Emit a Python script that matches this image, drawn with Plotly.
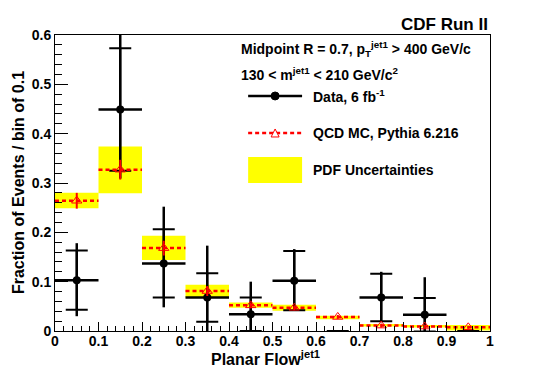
import plotly.graph_objects as go

# bin centres of planar flow (bin width 0.1)
bins = [0.05, 0.15, 0.25, 0.35, 0.45, 0.55, 0.65, 0.75, 0.85, 0.95]
bin_half = 0.05

# data, 6 fb-1
data_y = [0.103, 0.449, 0.137, 0.068, 0.034, 0.102, 0.0, 0.068, 0.033, 0.0]
data_stat = [0.060, 0.124, 0.069, 0.049, 0.034, 0.060, 0.0, 0.048, 0.034, 0.0]
data_tot_up = [0.075, 0.160, 0.115, 0.105, 0.066, 0.064, 0.0, 0.052, 0.076, 0.0]
data_tot_dn = [0.073, 0.140, 0.089, 0.068, 0.034, 0.060, 0.0, 0.050, 0.033, 0.0]

# QCD MC, Pythia 6.216
mc_y = [0.264, 0.327, 0.168, 0.081, 0.052, 0.047, 0.0285, 0.011, 0.009, 0.0075]
mc_err = [0.016, 0.020, 0.015, 0.010, 0.006, 0.005, 0.004, 0.004, 0.004, 0.003]

# PDF uncertainty band
pdf_lo = [0.249, 0.279, 0.144, 0.068, 0.047, 0.041, 0.024, 0.009, 0.007, 0.001]
pdf_hi = [0.280, 0.374, 0.193, 0.094, 0.058, 0.053, 0.031, 0.014, 0.012, 0.012]

FONT = "Liberation Sans"

fig = go.Figure()

# yellow PDF band
fig.add_trace(go.Bar(x=bins, y=[h - l for h, l in zip(pdf_hi, pdf_lo)], base=pdf_lo,
                     width=2 * bin_half, marker=dict(color="#ffff00", line=dict(width=0)),
                     showlegend=False, hoverinfo="skip"))

# data: total errors + bin width
mask = [v if v > 0 else None for v in data_y]
fig.add_trace(go.Scatter(x=bins, y=mask, mode="markers",
                         marker=dict(color="black", size=8, symbol="circle"),
                         error_x=dict(type="constant", value=bin_half, width=0, thickness=2.5, color="black"),
                         error_y=dict(type="data", array=data_tot_up, arrayminus=data_tot_dn,
                                      width=0, thickness=2.5, color="black"),
                         showlegend=False))
# data: statistical errors (cross bars)
fig.add_trace(go.Scatter(x=bins, y=data_y, mode="markers",
                         marker=dict(color="rgba(0,0,0,0)", size=1),
                         error_y=dict(type="data", array=data_stat, width=11, thickness=2, color="black"),
                         showlegend=False))

# MC histogram steps (dotted red per bin)
sx, sy = [], []
for c, v in zip(bins, mc_y):
    sx += [c - bin_half, c + bin_half, None]
    sy += [v, v, None]
fig.add_trace(go.Scatter(x=sx, y=sy, mode="lines",
                         line=dict(color="red", width=2.5, dash="4px,3px"),
                         showlegend=False, hoverinfo="skip"))
fig.add_trace(go.Scatter(x=bins, y=mc_y, mode="markers",
                         marker=dict(color="red", size=9, symbol="triangle-up-open", line=dict(width=1)),
                         error_y=dict(type="data", array=mc_err, width=0, thickness=2, color="red"),
                         showlegend=False))

axis_common = dict(showline=True, linecolor="black", linewidth=1, mirror=True, automargin=False,
                   ticks="inside", tickcolor="black", showgrid=False, zeroline=False,
                   tickfont=dict(family=FONT, size=14, color="black", weight="bold"))

fig.update_xaxes(range=[0, 1], dtick=0.1, tick0=0, ticklen=9, ticklabelstandoff=-3,
                 minor=dict(dtick=0.02, ticklen=5, ticks="inside", tickcolor="black"),
                 **axis_common)
fig.update_yaxes(range=[0, 0.6], dtick=0.1, tick0=0, ticklen=13,
                 minor=dict(dtick=0.02, ticklen=7, ticks="inside", tickcolor="black"),
                 **axis_common)

# titles and legend drawn by hand in paper coordinates
tf = dict(family=FONT, size=14, color="black", weight="bold")
ann = [
    dict(text="Planar Flow<sup>jet1</sup>", x=0.485, y=-0.05, xanchor="center", yanchor="top",
         font=dict(family=FONT, size=16, color="black", weight="bold")),
    dict(text="Fraction of Events / bin of 0.1", x=-0.085, y=0.5, xanchor="center", yanchor="middle",
         textangle=-90, font=dict(family=FONT, size=16, color="black", weight="bold")),
    dict(text="CDF Run II", x=1, y=1, xanchor="right", yanchor="bottom", yshift=-1,
         font=dict(family=FONT, size=17, color="black", weight="bold")),
    dict(text="Midpoint R = 0.7, p<sub>T</sub><sup>jet1</sup> > 400 GeV/c", x=0.424, y=0.953,
         xanchor="left", yanchor="middle", font=tf),
    dict(text="130 < m<sup>jet1</sup> < 210 GeV/c<sup>2</sup>", x=0.424, y=0.868,
         xanchor="left", yanchor="middle", font=tf),
    dict(text="Data, 6 fb<sup>-1</sup>", x=0.588, y=0.794, xanchor="left", yanchor="middle", font=tf),
    dict(text="QCD MC, Pythia 6.216", x=0.588, y=0.669, xanchor="left", yanchor="middle", font=tf),
    dict(text="PDF Uncertainties", x=0.588, y=0.544, xanchor="left", yanchor="middle", font=tf),
]
for a in ann:
    a.update(xref="paper", yref="paper", showarrow=False)

lx0, lx1, lxc = 0.444, 0.568, 0.506
shapes = [
    dict(type="line", x0=lx0, x1=lx1, y0=0.794, y1=0.794, line=dict(color="black", width=2.5)),
    dict(type="circle", xsizemode="pixel", ysizemode="pixel", xanchor=lxc, yanchor=0.794,
         x0=-4, x1=4, y0=-4, y1=4, fillcolor="black", line=dict(color="black", width=1)),
    dict(type="line", x0=lx0, x1=lx1, y0=0.669, y1=0.669, line=dict(color="red", width=2.5, dash="4px,3px")),
    dict(type="path", xsizemode="pixel", ysizemode="pixel", xanchor=lxc, yanchor=0.669,
         path="M-4,-4 L4,-4 L0,4 Z", fillcolor="white", line=dict(color="red", width=1)),
    dict(type="rect", x0=lx0, x1=lx1, y0=0.5, y1=0.588, fillcolor="#ffff00", line=dict(width=0)),
]
for s in shapes:
    s.update(xref="paper", yref="paper")

# page body adds an 8px offset, so the figure is sized 8px smaller
fig.update_layout(width=537, height=361, margin=dict(l=47, r=55, t=27, b=38),
                  plot_bgcolor="white", paper_bgcolor="white", barmode="overlay",
                  annotations=ann, shapes=shapes, showlegend=False,
                  font=dict(family=FONT, color="black"))

fig.write_html("out.html")
